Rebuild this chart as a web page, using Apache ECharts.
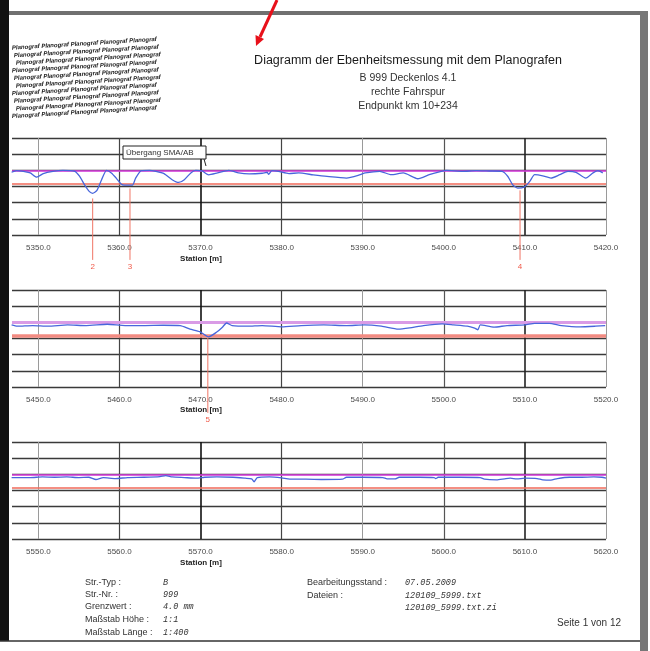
<!DOCTYPE html>
<html>
<head>
<meta charset="utf-8">
<script src="https://cdn.jsdelivr.net/npm/echarts@6/dist/echarts.min.js"></script>
<style>
html, body { margin: 0; padding: 0; background: #fff; }
#chart { width: 650px; height: 651px; }
</style>
</head>
<body>
<div id="chart"></div>
<script>
// Stationen (m) der drei Abschnitte
var ticks1 = [5350, 5360, 5370, 5380, 5390, 5400, 5410, 5420]
var ticks2 = [5450, 5460, 5470, 5480, 5490, 5500, 5510, 5520]
var ticks3 = [5550, 5560, 5570, 5580, 5590, 5600, 5610, 5620]
var range1 = [5346.75, 5420]
var range2 = [5446.75, 5520]
var range3 = [5546.75, 5620]
var yMin = -20
var yMax = 10
var yStep = 5
var grenzwert = -4

// Profil Abschnitt 1
var prof1Station = [5346.7, 5347.3, 5348.3, 5349, 5349.8, 5350.6, 5351.8, 5353, 5354.5, 5355.1, 5355.7, 5356.3, 5356.7, 5357.2,
  5357.8, 5358.4, 5359, 5359.6, 5360.2, 5360.6, 5361.6, 5362, 5362.7, 5363.7, 5364.5, 5365.5, 5366.5, 5367.3, 5368, 5368.8,
  5369.4, 5370.2, 5371, 5372.1, 5373.5, 5374.7, 5376, 5377.6, 5378.2, 5378.4, 5378.8, 5379.6, 5380.9, 5382.1, 5383.9, 5385.6,
  5388, 5389.7, 5390.3, 5392.1, 5393.5, 5395, 5396.8, 5398.2, 5399.7, 5400.3, 5402.3, 5404, 5405.6, 5407.2, 5407.9, 5408.5,
  5409.1, 5409.9, 5410.6, 5411.2, 5412.2, 5413.2, 5414.3, 5415.3, 5416.3, 5417.5, 5418.4, 5419, 5419.6]
var prof1Value = [-0.6, -0.1, -0.4, -0.8, -2.1, -1.0, -0.3, 0, -0.3, -1.9, -4.5, -6.6, -7.1, -6.3,
  -2.9, 0, -0.8, -2.4, -4.2, -4.6, -4.6, -2.4, -0.1, 0, -0.3, -1.0, -2.9, -3.75, -2.9, -0.8,
  0, -0.2, -1.4, -0.8, 0, -0.8, -1.1, -0.9, -0.6, -1.25, -0.1, -0.3, -1.0, -0.8, -1.4, -1.9,
  -2.4, -1.35, -0.8, -0.3, -1.35, -0.8, -2.6, -1.35, -0.3, 0, -0.3, -0.1, -0.2, -0.3, -1.9, -4.5,
  -5.5, -5.2, -3.4, -1.35, -1.7, -2.4, -1.35, -0.3, -0.6, -2.4, -0.8, -0.1, -0.8]

// Profil Abschnitt 2
var prof2Station = [5446.7, 5447.4, 5449.3, 5451.2, 5453.6, 5455.9, 5458.5, 5460.7, 5463, 5465.4, 5467.5, 5468.7, 5469.9,
  5471.0, 5472, 5472.7, 5473.2, 5473.9, 5475.8, 5477.6, 5480, 5482.4, 5485.2, 5488, 5490.2, 5492.3, 5494.4, 5495.8, 5497.5,
  5499.8, 5501.2, 5502.9, 5503.8, 5504.2, 5504.5, 5506.2, 5507.8, 5510, 5511.2, 5513, 5514.5, 5516.8, 5518.7, 5519.9]
var prof2Value = [-0.8, -1.2, -1.0, -1.2, -0.8, -1.0, -0.6, -1.0, -1.0, -0.9, -1.0, -2.1, -2.9,
  -4.5, -3.0, -1.5, -0.2, -1.0, -1.2, -1.0, -1.4, -1.0, -0.8, -1.0, -0.8, -1.2, -2.1, -1.7, -1.0,
  -0.5, -0.8, -1.2, -1.8, -2.3, -0.8, -1.5, -1.0, -0.8, -0.3, -0.3, -1.0, -1.4, -1.2, -1.0]

// Profil Abschnitt 3
var prof3Station = [5546.7, 5549, 5550.5, 5552, 5553.5, 5555, 5556.2, 5557.1, 5558, 5559.5, 5561, 5563, 5565, 5565.7,
  5566.5, 5568, 5569.5, 5570.5, 5572, 5574, 5575.5, 5576.3, 5576.6, 5577, 5578.5, 5580, 5581, 5583, 5585, 5587.5, 5588,
  5590, 5592.5, 5593, 5594, 5594.5, 5597, 5598.8, 5599, 5599.3, 5602, 5604.5, 5605, 5606.5, 5607.5, 5608.2, 5609, 5610,
  5611.5, 5612.2, 5613.2, 5614, 5615.5, 5617, 5618.5, 5619.5, 5620]
var prof3Value = [-1.0, -1.0, -0.8, -0.9, -0.8, -1.0, -0.9, -1.6, -1.0, -1.3, -1.0, -0.9, -0.7, -0.4,
  -0.8, -1.0, -1.2, -0.9, -0.8, -0.9, -1.2, -1.4, -2.3, -1.0, -0.8, -1.1, -1.5, -1.5, -1.6, -1.5, -0.9,
  -0.9, -1.0, -1.4, -1.4, -0.9, -0.9, -1.0, -1.3, -0.9, -0.9, -1.0, -1.5, -1.7, -1.4, -1.2, -1.4, -1.2,
  -1.3, -1.7, -1.8, -1.3, -0.9, -0.9, -0.8, -0.9, -1.2]

// Markierungen: Station, von, bis, Nummer
var markers1 = [[5356.7, -8.7, -27.7, '2'], [5361.3, -5.6, -27.7, '3'], [5409.4, -6.2, -27.7, '4']]
var markers2 = [[5470.9, -4.8, -28, '5']]
var markers3 = []

var panels = [
  {ticks: ticks1, range: range1, st: prof1Station, val: prof1Value, marks: markers1, top: 138, ref: '#e040e6', refW: 1.5, lim: '#f06a5a', limW: 1.5},
  {ticks: ticks2, range: range2, st: prof2Station, val: prof2Value, marks: markers2, top: 290, ref: '#d99be6', refW: 3, lim: '#f28b82', limW: 3.5},
  {ticks: ticks3, range: range3, st: prof3Station, val: prof3Value, marks: markers3, top: 442, ref: '#e040e6', refW: 1.5, lim: '#f06a5a', limW: 1.5}
]

// Strichstärken der senkrechten Gitterlinien (Scan)
var vShade = [
  {c: '#9a9a9a', w: 1}, {c: '#444', w: 1.2}, {c: '#111', w: 1.6}, {c: '#444', w: 1.2},
  {c: '#9a9a9a', w: 1}, {c: '#555', w: 1.2}, {c: '#222', w: 1.6}, {c: '#9a9a9a', w: 1}
]

var FONT = 'Liberation Sans'
var MONO = 'Liberation Mono'

var grids = [], xAxes = [], yAxes = [], series = []
panels.forEach(function (p, i) {
  grids.push({left: 12, top: p.top, width: 594, height: 97})
  xAxes.push({
    gridIndex: i, type: 'value', min: p.range[0], max: p.range[1],
    axisLine: {show: false}, axisTick: {show: false}, splitLine: {show: false},
    axisLabel: {
      customValues: p.ticks, color: '#4a4a4a', fontSize: 8, fontFamily: FONT, margin: 9,
      formatter: function (v) { return v.toFixed(1) }
    }
  })
  yAxes.push({
    gridIndex: i, type: 'value', min: yMin, max: yMax, interval: yStep,
    axisLine: {show: false}, axisTick: {show: false}, axisLabel: {show: false},
    splitLine: {show: true, lineStyle: {color: '#3a3a3a', width: 1.4}}
  })
  var gl = p.ticks.map(function (t, k) {
    return {xAxis: t, lineStyle: {color: vShade[k].c, width: vShade[k].w, type: 'solid'}}
  })
  gl.push({yAxis: 0, lineStyle: {color: p.ref, width: p.refW, type: 'solid'}})
  gl.push({yAxis: grenzwert, lineStyle: {color: p.lim, width: p.limW, type: 'solid'}})
  series.push({
    type: 'line', xAxisIndex: i, yAxisIndex: i, data: [], z: 1,
    markLine: {silent: true, z: 1, symbol: ['none', 'none'], label: {show: false}, animation: false, data: gl}
  })
  series.push({
    type: 'line', xAxisIndex: i, yAxisIndex: i, z: 3,
    data: p.st.map(function (s, k) { return [s, p.val[k]] }),
    showSymbol: false, smooth: 0.2, animation: false,
    lineStyle: {color: '#4866dc', width: 1.3}
  })
  series.push({
    type: 'custom', xAxisIndex: i, yAxisIndex: i, clip: false, z: 4, animation: false,
    data: p.marks,
    encode: {x: 0, y: [1, 2]},
    renderItem: function (params, api) {
      var a = api.coord([api.value(0), api.value(1)])
      var b = api.coord([api.value(0), api.value(2)])
      return {
        type: 'group',
        children: [
          {type: 'line', shape: {x1: a[0], y1: a[1], x2: b[0], y2: b[1]}, style: {stroke: '#f07565', lineWidth: 1}},
          {type: 'text', x: b[0], y: b[1] + 7, style: {text: p.marks[params.dataIndex][3], fill: '#f05a4a', fontSize: 8, fontFamily: FONT, align: 'center', verticalAlign: 'middle'}}
        ]
      }
    }
  })
})

// Logo
var logo = []
for (var r = 0; r < 10; r++) {
  logo.push({
    type: 'text', x: 12 + (r % 3) * 2, y: 48 + r * 7.6, rotation: 0.06,
    style: {text: 'Planograf Planograf Planograf Planograf Planograf', fill: '#1a1a1a', fontSize: 6, fontStyle: 'italic', fontWeight: 'bold', fontFamily: FONT, verticalAlign: 'middle'}
  })
}

function txt(x, y, s, o, z) {
  var st = {text: s, fill: '#333', fontSize: 9, fontFamily: FONT, verticalAlign: 'middle'}
  for (var k in o) st[k] = o[k]
  return {type: 'text', x: x, y: y, z: z || 5, style: st}
}

var graphic = [
  {type: 'rect', shape: {x: 0, y: 0, width: 9, height: 641}, style: {fill: '#111'}},
  {type: 'rect', shape: {x: 9, y: 11, width: 639, height: 4}, style: {fill: '#707070'}},
  {type: 'rect', shape: {x: 640, y: 11, width: 8, height: 640}, style: {fill: '#777'}},
  {type: 'line', shape: {x1: 0, y1: 641, x2: 640, y2: 641}, style: {stroke: '#333', lineWidth: 1.5}},
  {type: 'line', shape: {x1: 277, y1: 0, x2: 260, y2: 37}, style: {stroke: '#e8101a', lineWidth: 3}},
  {type: 'polygon', shape: {points: [[256, 46], [264, 39], [255.5, 35]]}, style: {fill: '#e8101a'}},
  txt(408, 61, 'Diagramm der Ebenheitsmessung mit dem Planografen', {fontSize: 12.5, fill: '#1a1a1a', align: 'center'}),
  txt(408, 78, 'B 999 Deckenlos 4.1', {fontSize: 10.5, align: 'center'}),
  txt(408, 92, 'rechte Fahrspur', {fontSize: 10.5, align: 'center'}),
  txt(408, 106, 'Endpunkt km 10+234', {fontSize: 10.5, align: 'center'}),
  {type: 'rect', z: 10, shape: {x: 123, y: 146, width: 83, height: 13}, style: {fill: '#fff', stroke: '#222', lineWidth: 1}},
  {type: 'line', z: 10, shape: {x1: 204, y1: 159, x2: 206, y2: 166}, style: {stroke: '#222', lineWidth: 1}},
  txt(126, 152.5, 'Übergang SMA/AB', {fontSize: 8}, 11),
  txt(201, 259, 'Station [m]', {fontSize: 8, fontWeight: 'bold', fill: '#222', align: 'center'}),
  txt(201, 410, 'Station [m]', {fontSize: 8, fontWeight: 'bold', fill: '#222', align: 'center'}),
  txt(201, 563, 'Station [m]', {fontSize: 8, fontWeight: 'bold', fill: '#222', align: 'center'}),
  txt(85, 583, 'Str.-Typ :'),
  txt(85, 595, 'Str.-Nr. :'),
  txt(85, 607, 'Grenzwert :'),
  txt(85, 620, 'Maßstab Höhe :'),
  txt(85, 633, 'Maßstab Länge :'),
  txt(163, 583, 'B', {fontFamily: MONO, fontStyle: 'italic', fontSize: 8.5}),
  txt(163, 595, '999', {fontFamily: MONO, fontStyle: 'italic', fontSize: 8.5}),
  txt(163, 607, '4.0 mm', {fontFamily: MONO, fontStyle: 'italic', fontSize: 8.5}),
  txt(163, 620, '1:1', {fontFamily: MONO, fontStyle: 'italic', fontSize: 8.5}),
  txt(163, 633, '1:400', {fontFamily: MONO, fontStyle: 'italic', fontSize: 8.5}),
  txt(307, 583, 'Bearbeitungsstand :'),
  txt(307, 596, 'Dateien :'),
  txt(405, 583, '07.05.2009', {fontFamily: MONO, fontStyle: 'italic', fontSize: 8.5}),
  txt(405, 596, '120109_5999.txt', {fontFamily: MONO, fontStyle: 'italic', fontSize: 8.5}),
  txt(405, 608, '120109_5999.txt.zi', {fontFamily: MONO, fontStyle: 'italic', fontSize: 8.5}),
  txt(621, 623, 'Seite 1 von 12', {fontSize: 10, align: 'right'})
].concat(logo)

var myChart = echarts.init(document.getElementById('chart'))
myChart.setOption({
  animation: false,
  backgroundColor: '#fff',
  grid: grids,
  xAxis: xAxes,
  yAxis: yAxes,
  series: series,
  graphic: graphic
})
</script>
</body>
</html>
